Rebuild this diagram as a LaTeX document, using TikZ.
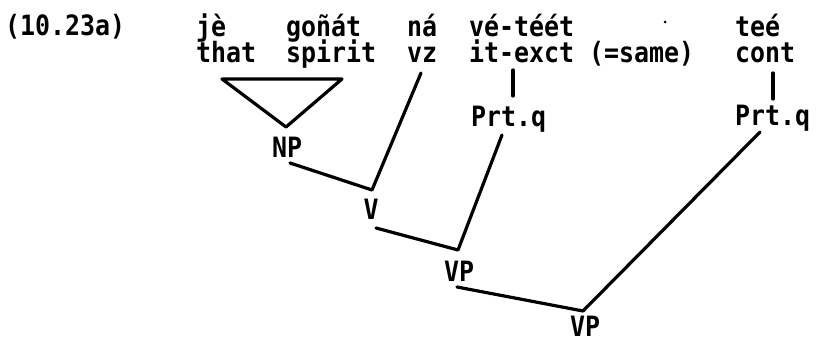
\documentclass[tikz,border=0pt]{standalone}
\usepackage{fontspec}
\newfontfamily\typewr{DejaVu Sans Mono}[FakeStretch=0.89]
\begin{document}
\begin{tikzpicture}[x=1pt,y=-1pt,
  txt/.style={inner sep=0pt,anchor=base west,font=\typewr\bfseries\fontsize{28}{28}\selectfont},
  cat/.style={inner sep=0pt,anchor=base,text depth=0pt,font=\typewr\bfseries\fontsize{28}{28}\selectfont},
  branch/.style={line width=3.2pt,line cap=round,line join=round}]
\useasboundingbox (0,0) rectangle (818,344);
% example number
\node[txt] (num) at (5,36) {(10.23a)};
% words and glosses
\node[txt] (je) at (196,37) {jè};
\node[txt] (that) at (196,63) {that};
\node[txt] (gonat) at (286,37) {goñát};
\node[txt] (spirit) at (286,63) {spirit};
\node[txt] (na) at (407,37) {ná};
\node[txt] (vz) at (407,63) {vz};
\node[txt] (vetet) at (469,37) {vé-téét};
\node[txt] (itexct) at (469,63) {it-exct};
\node[txt] (same) at (589,63) {(=same)};
\node[txt] (tee) at (735,37) {teé};
\node[txt] (cont) at (735,63) {cont};
\node[txt] (prtA) at (471,127) {Prt.q};
\node[txt] (prtB) at (735,126) {Prt.q};
% categories
\node[cat] (NP) at (287,158) {NP};
\node[cat] (V) at (371,220) {V};
\node[cat] (VPa) at (459,281) {VP};
\node[cat] (VPb) at (585,336) {VP};
% stray dot
\fill (665,22) circle (1.5);
% branch points
\coordinate (triL) at (222,79);
\coordinate (triR) at (342,79);
\coordinate (triB) at (286,127);
\coordinate (npR) at (290,163);
\coordinate (vTop) at (372,190);
\coordinate (vzB) at (421,73);
\coordinate (vR) at (376,228);
\coordinate (vpaTop) at (458,250);
\coordinate (prtAB) at (502,135);
\coordinate (vpaR) at (457,287);
\coordinate (vpbTop) at (583,311);
\coordinate (prtBB) at (760,132);
\coordinate (barAt) at (513,70);
\coordinate (barAb) at (513,96);
\coordinate (barBt) at (773,73);
\coordinate (barBb) at (773,99);
% connectors
\draw[branch] (triL) -- (triR) -- (triB) -- cycle;
\draw[branch] (npR) -- (vTop) -- (vzB);
\draw[branch] (vR) -- (vpaTop) -- (prtAB);
\draw[branch] (vpaR) -- (vpbTop) -- (prtBB);
\draw[branch] (barAt) -- (barAb);
\draw[branch] (barBt) -- (barBb);
\end{tikzpicture}
\end{document}
